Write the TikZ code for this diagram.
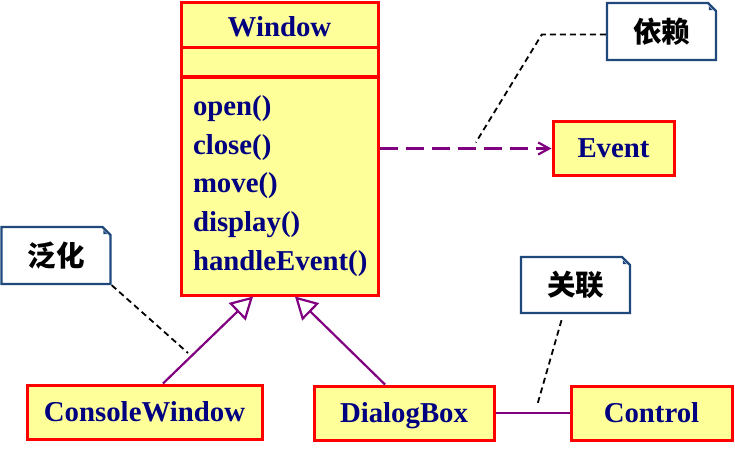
\documentclass[tikz,border=0pt]{standalone}
\usepackage{fontspec}
\setmainfont{Liberation Serif}
\newfontfamily\cjk{Noto Sans CJK SC}
\usetikzlibrary{arrows.meta, positioning, shapes.misc}
\definecolor{amarillo}{RGB}{255,255,153}
\definecolor{azuloscuro}{RGB}{0,0,128}
\definecolor{morado}{RGB}{128,0,128}
\definecolor{bordenota}{RGB}{31,73,125}
\tikzstyle{clase} = [draw=red, fill=amarillo, line width=3pt, rectangle, minimum height=54pt, inner sep=0pt, text=azuloscuro, font=\fontsize{28.8}{34}\selectfont\bfseries]
\tikzstyle{nombre} = [text height=22pt, text depth=4pt]
\tikzstyle{nota} = [draw=bordenota, fill=white, line width=2.4pt, chamfered rectangle, chamfered rectangle corners=north east, chamfered rectangle sep=4pt, minimum width=109pt, minimum height=57pt, inner sep=0pt, font=\cjk\fontsize{28.5}{32}\selectfont\bfseries]
\tikzstyle{generaliza} = [draw=morado, line width=2.2pt, -{Triangle[open, length=22pt, width=24pt]}]
\tikzstyle{depende} = [draw=morado, line width=2.2pt, dash pattern=on 18pt off 8pt, -{Straight Barb[length=11pt, width=12pt]}]
\tikzstyle{asocia} = [draw=morado, line width=2.2pt]
\tikzstyle{enlace} = [draw=black, line width=1.8pt, dash pattern=on 6pt off 4pt]
\newcommand{\pliegue}[1]{\fill[bordenota] ([xshift=-4pt]#1.north east) -- ([shift={(-4pt,-4pt)}]#1.north east) -- ([yshift=-4pt]#1.north east) -- cycle;}

\begin{document}
\begin{tikzpicture}[x=1pt, y=-1pt]
	\useasboundingbox (0,0) rectangle (735,448);
	\node[clase, text height=25pt, text depth=2pt, minimum width=197pt, minimum height=45pt] (wnombre) at (279.5,24.5) {Window};
	\node[clase, minimum width=197pt, minimum height=29pt] (watrib) at (279.5,61.5) {};
	\node[clase, minimum height=218pt, text width=173pt, inner xsep=12pt, align=left, font=\fontsize{28.8}{38.75}\selectfont\bfseries] (wops) at (279.5,186) {open()\\close()\\move()\\display()\\handleEvent()};
	\node[clase, nombre, minimum width=121pt] (evento) at (613.5,148.5) {Event};
	\node[clase, nombre, minimum width=235pt] (consola) at (144.5,412) {ConsoleWindow};
	\node[clase, nombre, minimum width=180pt] (dialogo) at (404,413) {DialogBox};
	\node[clase, nombre, minimum width=161pt] (control) at (651.5,413) {Control};

	\node[nota] (ndepende) at (661.5,31.5) {依赖};
	\node[nota] (ngeneral) at (56,255.5) {泛化};
	\node[nota, minimum height=56pt] (nasocia) at (575.5,285) {关联};
	\pliegue{ndepende}
	\pliegue{ngeneral}
	\pliegue{nasocia}

	\draw[generaliza] ([xshift=18.5pt]consola.north) -- ([xshift=-26.5pt]wops.south);
	\draw[generaliza] ([xshift=-19pt]dialogo.north) -- ([xshift=15.5pt]wops.south);
	\draw[depende] (wops.east |- evento.west) -- coordinate[pos=0.56] (pdepende) (evento.west);
	\draw[asocia] (dialogo.east) -- coordinate[pos=0.56] (pasocia) (control.west);
	\coordinate (pgeneral) at (188,353);

	\draw[enlace] ([yshift=-3pt]ndepende.west) -- ++(-64,0) -- ([yshift=6pt]pdepende);
	\draw[enlace] (ngeneral.south east) -- (pgeneral);
	\draw[enlace] ([shift={(-14pt,-6pt)}]nasocia.south) -- ([yshift=7pt]pasocia);
\end{tikzpicture}
\end{document}
